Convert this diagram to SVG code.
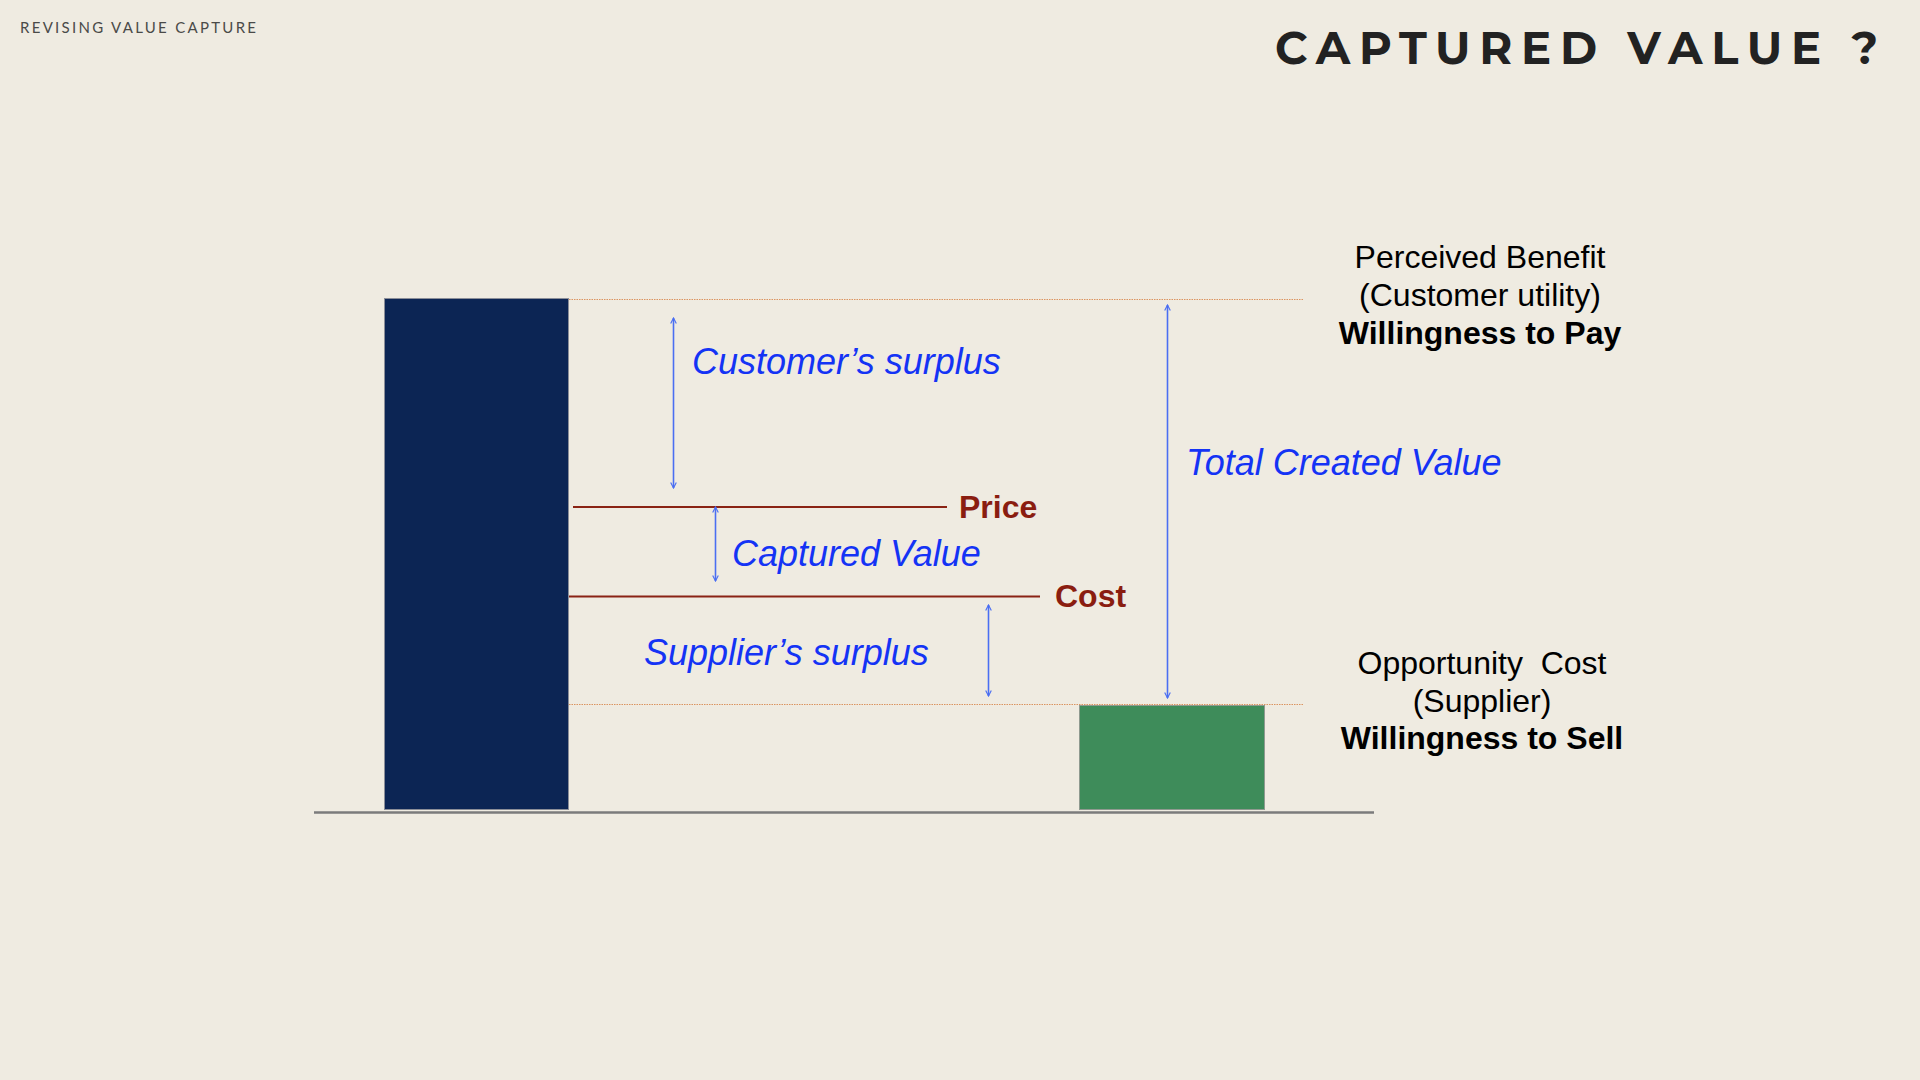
<svg xmlns="http://www.w3.org/2000/svg" width="1920" height="1080" viewBox="0 0 1920 1080">
  <style>
    .kicker { font-family: "Lato", "Open Sans", "Liberation Sans", sans-serif; font-size: 15px; fill: #4a4a48; }
    .title { font-family: "Montserrat", "Lato", "Open Sans", "Liberation Sans", sans-serif; font-weight: 700; font-size: 45px; fill: #222222; }
    .area { font-family: "Liberation Sans", Arial, sans-serif; font-style: italic; font-size: 36px; fill: #1433F5; }
    .level { font-family: "Liberation Sans", Arial, sans-serif; font-weight: bold; font-size: 32px; fill: #8A1D10; }
    .side { font-family: "Liberation Sans", Arial, sans-serif; font-size: 32px; fill: #000000; text-anchor: middle; }
    .strong { font-weight: bold; }
    .guide { stroke: #DB9460; stroke-width: 1.2; stroke-dasharray: 1.5 1; fill: none; }
    .mark { stroke: #8A2314; stroke-width: 2.2; fill: none; }
    .span { stroke: #4A6EF2; stroke-width: 1.6; fill: none; marker-start: url(#tip); marker-end: url(#tip); }
  </style>
  <defs>
    <marker id="tip" viewBox="0 0 10 10" refX="9" refY="5" markerWidth="7" markerHeight="7" markerUnits="userSpaceOnUse" orient="auto-start-reverse">
      <path d="M1 1 L9 5 L1 9" fill="none" stroke="#4A6EF2" stroke-width="1.6"/>
    </marker>
    <filter id="soft" x="-5%" y="-200%" width="110%" height="500%">
      <feGaussianBlur stdDeviation="1.2"/>
    </filter>
  </defs>

  <rect width="1920" height="1080" fill="#EFEBE1"/>

  <text class="kicker" x="20" y="33" textLength="236" lengthAdjust="spacing">REVISING VALUE CAPTURE</text>
  <text class="title" x="1275" y="64" textLength="603" lengthAdjust="spacing">CAPTURED VALUE ?</text>

  <!-- reference levels -->
  <g id="guides">
    <line class="guide" x1="569" y1="299.5" x2="1304" y2="299.5"/>
    <line class="guide" x1="569" y1="704.5" x2="1304" y2="704.5"/>
  </g>

  <!-- customer side bar -->
  <g id="benefit-bar">
    <rect x="384.5" y="298.5" width="184" height="511" fill="#0C2554" stroke="#8b8e98" stroke-width="1"/>
  </g>

  <!-- supplier side bar -->
  <g id="cost-bar">
    <rect x="1079.5" y="705.5" width="185" height="104" fill="#3E8C5A" stroke="#8f9a90" stroke-width="1"/>
  </g>

  <!-- ground line -->
  <g id="axis">
    <line x1="314" y1="815" x2="1374" y2="815" stroke="#b8b4aa" stroke-width="3" filter="url(#soft)"/>
    <line x1="314" y1="812.5" x2="1374" y2="812.5" stroke="#7b7b7b" stroke-width="2.5"/>
  </g>

  <g id="price">
    <line class="mark" x1="573" y1="507" x2="947" y2="507"/>
    <text class="level" x="959" y="518">Price</text>
  </g>

  <g id="cost">
    <line class="mark" x1="569" y1="596.5" x2="1040" y2="596.5"/>
    <text class="level" x="1055" y="607">Cost</text>
  </g>

  <g id="wtp-label">
    <text class="side" x="1480" y="268">Perceived Benefit</text>
    <text class="side" x="1480" y="306">(Customer utility)</text>
    <text class="side strong" x="1480" y="344">Willingness to Pay</text>
  </g>

  <g id="wts-label">
    <text class="side" x="1482" y="674" xml:space="preserve">Opportunity  Cost</text>
    <text class="side" x="1482" y="712">(Supplier)</text>
    <text class="side strong" x="1482" y="749">Willingness to Sell</text>
  </g>

  <g id="area-labels">
    <text class="area" x="692" y="374">Customer’s surplus</text>
    <text class="area" x="732" y="566">Captured Value</text>
    <text class="area" x="644" y="665">Supplier’s surplus</text>
    <text class="area" x="1186" y="475">Total Created Value</text>
  </g>

  <!-- span arrows -->
  <g id="connectors">
    <line class="span" x1="673.5" y1="318" x2="673.5" y2="488"/>
    <line class="span" x1="715.5" y1="507" x2="715.5" y2="581"/>
    <line class="span" x1="988.5" y1="605" x2="988.5" y2="696"/>
    <line class="span" x1="1167.5" y1="305" x2="1167.5" y2="698"/>
  </g>
</svg>
